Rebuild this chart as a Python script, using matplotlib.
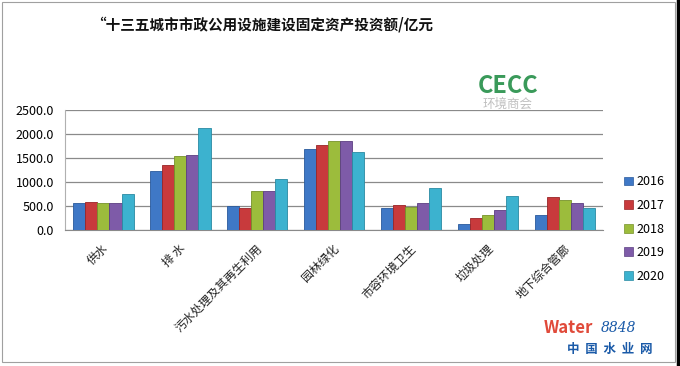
import matplotlib.pyplot as plt
import numpy as np
from matplotlib.patches import Rectangle, Patch
from matplotlib.lines import Line2D

plt.rcParams['font.family'] = ['Noto Sans CJK SC', 'DejaVu Sans']

# 数据
categories = ['供水', '排 水', '污水处理及其再生利用', '园林绿化', '市容环境卫生', '垃圾处理', '地下综合管廊']
years = ['2016', '2017', '2018', '2019', '2020']
v2016 = [565, 1230, 500, 1690, 460, 125, 310]
v2017 = [590, 1355, 465, 1770, 520, 250, 690]
v2018 = [570, 1545, 805, 1860, 480, 315, 625]
v2019 = [565, 1560, 805, 1860, 555, 410, 560]
v2020 = [750, 2125, 1070, 1630, 875, 710, 465]
series = [v2016, v2017, v2018, v2019, v2020]
colors = ['#3f78c6', '#c83a3c', '#9cbc3c', '#7e5ba8', '#3cb2cf']
edges = ['#2a5a9c', '#9a2426', '#76922a', '#5c3f82', '#2a8aa2']

fig = plt.figure(figsize=(6.8, 3.66), dpi=100)
ax = fig.add_axes([0.0956, 0.3716, 0.7914, 0.328])

x = np.arange(len(categories))
w = 0.157
for i, vals in enumerate(series):
    ax.bar(x + (i - 2) * w, vals, width=w, color=colors[i], edgecolor=edges[i],
           linewidth=0.6, zorder=3)

ax.set_xlim(-0.5, len(categories) - 0.5)
ax.set_ylim(0, 2500)
ax.set_yticks(np.arange(0, 2501, 500))
ax.set_yticklabels(['%.1f' % t for t in np.arange(0, 2501, 500)], fontsize=9)
ax.yaxis.grid(True, color='#8a8a8a', linewidth=0.9, zorder=0)
ax.tick_params(axis='y', length=0, pad=8)
ax.tick_params(axis='x', length=0)
ax.set_xticks(x)
ax.set_xticklabels([])
for s in ['top', 'right']:
    ax.spines[s].set_visible(False)
ax.spines['left'].set_color('#b0b0b0')
ax.spines['bottom'].set_color('#8a8a8a')

# 斜放的类别标签
for xi, lab in zip(x, categories):
    ax.text(xi - 0.02, -0.1, lab, transform=ax.get_xaxis_transform(), rotation=45,
            ha='right', va='top', rotation_mode='anchor', fontsize=8.5, color='#222222')

# 图例
handles = [Patch(facecolor=c, edgecolor=e, linewidth=0.5) for c, e in zip(colors, edges)]
fig.legend(handles, years, loc='upper left', bbox_to_anchor=(0.905, 0.545),
           frameon=False, fontsize=9, handlelength=0.7, handleheight=0.7,
           handletextpad=0.3, labelspacing=0.85, borderpad=0.2)

# 标题
fig.text(0.385, 0.932, '“十三五城市市政公用设施建设固定资产投资额/亿元',
         ha='center', va='center', fontsize=10.5, fontweight='bold', color='#111111')

# 水印
fig.text(0.747, 0.765, 'CECC', ha='center', va='center', fontsize=17, fontweight='bold',
         color='#3a9a5a')
fig.text(0.747, 0.715, '环境商会', ha='center', va='center', fontsize=9, color='#c0c0c0')
fig.text(0.80, 0.104, 'Water', ha='left', va='center', fontsize=12, fontweight='bold',
         color='#e04a3a')
fig.text(0.883, 0.104, '8848', ha='left', va='center', fontsize=10, style='italic',
         color='#1a5aa8', family='DejaVu Serif')
fig.text(0.897, 0.046, '中  国  水  业  网', ha='center', va='center', fontsize=9,
         fontweight='bold', color='#1a5aa8')

# 外框
fig.add_artist(Rectangle((0.003, 0.011), 0.99, 0.984, transform=fig.transFigure,
                         fill=False, edgecolor='#a0a0a0', linewidth=0.8))
fig.add_artist(Line2D([0.9965, 0.9965], [0, 1], transform=fig.transFigure,
                      color='black', linewidth=2.5))

fig.savefig('out.png', dpi=100)
